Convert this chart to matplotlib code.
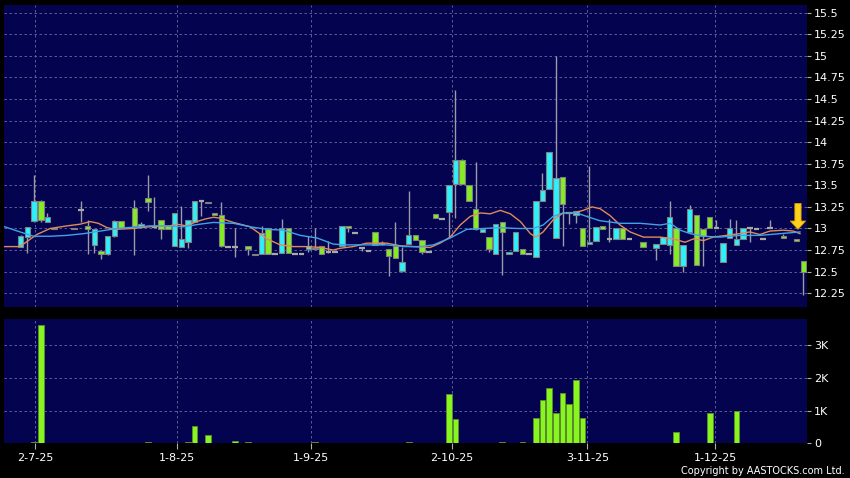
import matplotlib
matplotlib.use('Agg')
import matplotlib.pyplot as plt

# daily candles: slot index, open, high, low, close
slots = [0, 1, 2, 3, 4, 5, 8, 9, 10, 11, 12, 13, 14, 15, 17, 18, 19, 20, 21, 22,
         23, 24, 25, 26, 27, 28, 29, 30, 31, 32, 34, 35, 36, 37, 38, 39, 40, 41, 42, 43,
         44, 45, 46, 47, 48, 49, 50, 51, 52, 53, 54, 55, 56, 57, 58, 59, 60, 61, 62, 63,
         64, 65, 66, 67, 68, 69, 70, 71, 72, 73, 74, 75, 76, 77, 78, 79, 80, 81, 82, 83,
         84, 85, 86, 87, 88, 89, 90, 91, 93, 95, 96, 97, 98, 99, 100, 101, 102, 103, 104, 105,
         106, 107, 108, 109, 110, 111, 112, 114, 116, 117]
opens = [12.79, 12.90, 13.09, 13.32, 13.07, 13.01, 13.01, 13.21, 13.03, 12.81, 12.74, 12.70, 12.91, 13.09, 13.24, 13.02, 13.35, 13.02, 13.10, 13.03,
         12.80, 12.79, 12.84, 13.08, 13.32, 13.31, 13.18, 13.16, 12.79, 12.79, 12.80, 12.71, 12.70, 13.00, 12.70, 12.72, 13.00, 12.71, 12.71, 12.76,
         12.77, 12.80, 12.73, 12.73, 12.80, 13.03, 12.95, 12.77, 12.74, 12.96, 12.82, 12.76, 12.80, 12.51, 12.82, 12.92, 12.87, 12.73, 13.17, 13.11,
         13.19, 13.52, 13.79, 13.50, 13.23, 12.96, 12.90, 12.71, 13.07, 12.70, 12.74, 12.76, 12.70, 12.67, 13.32, 13.46, 12.89, 13.60, 13.18, 13.16,
         13.01, 12.82, 12.85, 13.03, 12.88, 12.88, 13.01, 12.88, 12.84, 12.77, 12.82, 12.81, 13.01, 12.57, 12.96, 13.16, 12.99, 13.13, 13.01, 12.61,
         12.89, 12.81, 12.88, 13.01, 12.99, 12.88, 13.01, 12.91, 12.88, 12.62]
highs = [12.92, 13.02, 13.62, 13.33, 13.18, 13.01, 13.01, 13.32, 13.10, 12.99, 12.75, 12.91, 13.10, 13.09, 13.33, 13.07, 13.62, 13.37, 13.10, 13.03,
         13.18, 13.26, 13.10, 13.32, 13.32, 13.31, 13.18, 13.31, 12.79, 13.01, 12.80, 12.71, 13.03, 13.00, 12.70, 13.11, 13.00, 12.71, 12.71, 12.91,
         13.01, 12.80, 12.86, 12.73, 13.03, 13.03, 12.95, 12.77, 12.74, 12.96, 12.86, 12.76, 13.07, 12.78, 13.43, 12.92, 12.87, 12.73, 13.17, 13.11,
         13.50, 14.60, 13.81, 13.50, 13.77, 12.99, 12.90, 13.05, 13.07, 12.73, 12.96, 12.76, 12.70, 13.32, 13.64, 13.89, 15.00, 13.60, 13.18, 13.20,
         13.01, 13.72, 13.02, 13.03, 13.11, 13.01, 13.01, 12.88, 12.84, 12.82, 12.90, 13.32, 13.01, 12.81, 13.27, 13.16, 12.99, 13.13, 13.10, 12.83,
         13.11, 13.10, 13.01, 13.01, 12.99, 12.88, 13.10, 12.94, 12.88, 12.62]
lows = [12.78, 12.72, 13.08, 13.07, 13.07, 12.99, 12.99, 13.07, 12.71, 12.72, 12.65, 12.69, 12.90, 13.01, 12.69, 13.02, 13.20, 13.00, 12.88, 12.99,
        12.80, 12.79, 12.77, 13.08, 13.15, 13.29, 13.16, 12.79, 12.79, 12.67, 12.69, 12.69, 12.70, 12.71, 12.70, 12.72, 12.72, 12.71, 12.71, 12.73,
        12.76, 12.71, 12.72, 12.73, 12.80, 12.96, 12.95, 12.74, 12.74, 12.81, 12.81, 12.45, 12.66, 12.50, 12.82, 12.87, 12.71, 12.73, 13.12, 13.11,
        12.90, 13.12, 13.52, 13.32, 12.98, 12.96, 12.73, 12.71, 12.46, 12.70, 12.74, 12.70, 12.70, 12.67, 13.32, 13.46, 12.89, 12.80, 13.05, 13.06,
        12.80, 12.82, 12.85, 12.99, 12.84, 12.88, 12.88, 12.88, 12.79, 12.63, 12.82, 12.71, 12.57, 12.50, 12.96, 12.58, 12.57, 13.01, 13.01, 12.61,
        12.89, 12.81, 12.88, 12.84, 12.99, 12.88, 13.01, 12.89, 12.86, 12.23]
closes = [12.91, 13.02, 13.32, 13.10, 13.13, 12.99, 12.99, 13.21, 12.99, 12.99, 12.70, 12.91, 13.09, 13.01, 13.03, 13.05, 13.31, 13.02, 12.99, 12.99,
          13.18, 12.88, 13.10, 13.32, 13.32, 13.29, 13.16, 12.80, 12.79, 12.79, 12.76, 12.69, 12.95, 12.71, 12.70, 13.00, 12.72, 12.71, 12.71, 12.80,
          12.76, 12.71, 12.73, 12.73, 13.03, 13.01, 12.95, 12.77, 12.74, 12.81, 12.82, 12.68, 12.66, 12.61, 12.92, 12.87, 12.73, 12.73, 13.12, 13.11,
          13.50, 13.79, 13.52, 13.32, 12.99, 12.99, 12.76, 13.05, 12.96, 12.73, 12.96, 12.70, 12.70, 13.32, 13.45, 13.89, 13.59, 13.28, 13.18, 13.20,
          12.80, 12.84, 13.02, 12.99, 12.88, 13.01, 12.88, 12.88, 12.79, 12.82, 12.90, 13.13, 12.57, 12.81, 13.23, 12.58, 12.91, 13.01, 13.01, 12.83,
          13.00, 12.88, 13.01, 13.01, 12.99, 12.88, 13.01, 12.89, 12.86, 12.50]

vol_slots = [2, 3, 11, 19, 21, 23, 25, 26, 28, 32, 34, 42, 44, 58, 64, 65, 72, 75,
             77, 78, 79, 80, 81, 82, 83, 84, 98, 99, 103, 106, 107, 108]
volumes = [30, 3607, 20, 30, 10, 10, 30, 538, 254, 60, 30, 20, 30, 30, 1514, 752, 30, 30,
           782, 1321, 1676, 925, 1534, 1209, 1920, 782, 345, 20, 914, 20, 985, 10]

# moving averages
ma_fast_x = [-2.4, -0.3, 0.6, 2.4, 4.4, 6.9, 8.9, 10.4, 11.6, 12.9, 14.1, 16.8, 19.3, 22.3, 23.3, 24.8,
             26.3, 27.6, 28.8, 29.8, 31.8, 34.3, 36.8, 38.8, 40.8, 42.8, 44.8, 46.7, 47.7, 49.7, 51.7,
             54.7, 56.7, 58.7, 61.2, 62.7, 64.2, 65.7, 67.2, 68.7, 70.2, 71.7, 73.2, 74.7, 76.2, 77.0,
             78.1, 79.6, 81.1, 82.6, 84.1, 85.4, 86.6, 88.1, 89.6, 91.1, 93.1, 95.6, 97.6, 99.3, 100.6,
             102.1, 103.5, 105.5, 107.5, 109.0, 110.5, 112.0, 114.0, 115.5, 116.5]
ma_fast = [12.79, 12.79, 12.83, 12.93, 13.00, 13.03, 13.05, 13.08, 13.06, 13.01, 12.99, 13.00, 13.02, 13.03, 13.05, 13.03,
           13.08, 13.11, 13.13, 13.12, 13.07, 13.02, 12.88, 12.81, 12.79, 12.79, 12.78, 12.75, 12.77, 12.79, 12.83,
           12.83, 12.80, 12.79, 12.78, 12.83, 12.90, 13.04, 13.14, 13.18, 13.17, 13.21, 13.17, 13.08, 12.94, 12.90,
           12.96, 13.10, 13.18, 13.18, 13.21, 13.25, 13.23, 13.15, 13.04, 12.96, 12.90, 12.90, 12.88, 12.84, 12.88,
           12.86, 12.90, 12.92, 12.94, 12.96, 12.93, 12.97, 12.98, 12.97, 12.94]
ma_slow_x = [-2.4, -0.1, 1.9, 4.4, 6.9, 9.4, 11.9, 14.4, 19.3, 21.8, 24.3, 26.8, 28.8, 31.8, 34.3, 36.8,
             39.3, 41.8, 44.3, 46.7, 48.2, 51.7, 54.7, 57.4, 59.7, 61.7, 64.2, 66.7, 69.2, 71.7, 74.2,
             76.6, 78.1, 79.6, 81.1, 83.1, 84.6, 86.6, 89.6, 92.6, 95.6, 97.1, 98.6, 100.1, 102.1, 104.6,
             107.5, 110.5, 113.5, 116.5]
ma_slow = [13.02, 12.96, 12.91, 12.91, 12.92, 12.94, 12.97, 13.00, 13.03, 13.03, 13.02, 13.05, 13.07, 13.06, 13.02, 12.99,
           12.98, 12.92, 12.89, 12.82, 12.81, 12.81, 12.81, 12.79, 12.79, 12.81, 12.89, 12.99, 13.00, 13.01, 13.00,
           13.00, 13.04, 13.14, 13.18, 13.18, 13.14, 13.09, 13.06, 13.06, 13.04, 13.06, 12.98, 12.94, 12.91, 12.90,
           12.92, 12.92, 12.94, 12.96]

date_ticks = [2.2, 23.3, 43.4, 64.5, 84.7, 103.8]
date_labels = ['2-7-25', '1-8-25', '1-9-25', '2-10-25', '3-11-25', '1-12-25']
price_ticks = [12.25, 12.5, 12.75, 13, 13.25, 13.5, 13.75, 14, 14.25, 14.5, 14.75, 15, 15.25, 15.5]
vol_ticks = [0, 1000, 2000, 3000]
vol_labels = ['0', '1K', '2K', '3K']
last_slot = 116.2

BG = '#03034f'
GRID = '#6a6a9e'
UP = '#2ef0fa'
DOWN = '#84ec22'

fig = plt.figure(figsize=(8.5, 4.78), dpi=100, facecolor='black')
ax = fig.add_axes([4/850, 1-307/478, 803/850, 302/478])
axv = fig.add_axes([4/850, 1-443.3/478, 803/850, 124.3/478])

for a in (ax, axv):
    a.set_facecolor(BG)
    for s in a.spines.values():
        s.set_visible(False)
    a.set_xlim(-2.5, 117.55)
    a.yaxis.tick_right()
    a.tick_params(axis='y', colors='#b0b0b0', labelcolor='white', labelsize=8,
                  length=3, width=0.8, pad=2)
    a.grid(True, color=GRID, linestyle=(0, (3, 3)), linewidth=0.6)
    a.set_axisbelow(True)
    a.set_xticks(date_ticks)

# candles
wick_col = '#9c9ca8'
ax.vlines(slots, lows, highs, color=wick_col, linewidth=1, zorder=2)
for s, o, c in zip(slots, opens, closes):
    if abs(c - o) < 0.005:
        ax.hlines(o, s - 0.42, s + 0.42, color='#a8a8a8', linewidth=1.6, zorder=3)
    else:
        col = UP if c > o else DOWN
        lo, hi = min(o, c), max(o, c)
        ax.bar(s, max(hi - lo, 0.018), bottom=lo, width=0.82, color=col,
               edgecolor='#808080', linewidth=0.8, zorder=3)

ax.plot(ma_fast_x, ma_fast, color='#e08a5a', linewidth=1, zorder=4)
ax.plot(ma_slow_x, ma_slow, color='#3fa2ea', linewidth=1, zorder=4)

ax.annotate('', xy=(last_slot, 12.99), xytext=(last_slot, 13.29),
            arrowprops=dict(facecolor='#ffd21a', edgecolor='#d89a00', width=4.5,
                            headwidth=11, headlength=6, linewidth=0.6), zorder=5)

ax.set_ylim(12.09, 15.59)
ax.set_yticks(price_ticks)
ax.set_yticklabels(['%g' % p for p in price_ticks])
ax.tick_params(axis='x', length=0, labelbottom=False)

# volume
axv.bar(vol_slots, volumes, width=0.85, color='#86f61e', edgecolor='#5c8a30',
        linewidth=0.7, zorder=3)
axv.set_ylim(0, 3790)
axv.set_yticks(vol_ticks)
axv.set_yticklabels(vol_labels)
axv.set_xticklabels(date_labels)
axv.tick_params(axis='x', colors='#b0b0b0', labelcolor='white', labelsize=8,
                length=4, width=0.8, pad=3)

fig.text(845/850, 1-471/478, 'Copyright by AASTOCKS.com Ltd.', color='white',
         fontsize=7, ha='right', va='center', family='DejaVu Sans')

fig.savefig('out.png', dpi=100, facecolor='black')
